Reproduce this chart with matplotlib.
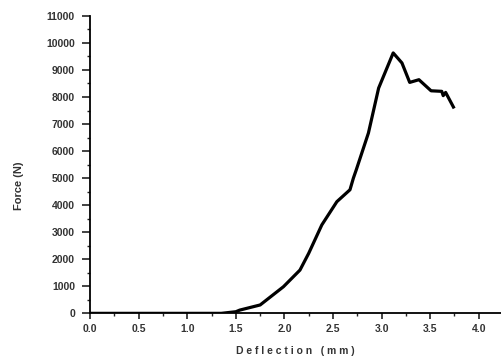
import matplotlib
matplotlib.use("Agg")
import matplotlib.pyplot as plt
from matplotlib.ticker import MultipleLocator

# force vs deflection curve
deflection = [0.0, 0.5, 1.0, 1.35, 1.5, 1.54, 1.75, 1.99, 2.16, 2.25, 2.385, 2.54,
              2.675, 2.71, 2.74, 2.865, 2.97, 3.12, 3.21, 3.29, 3.385, 3.51,
              3.62, 3.635, 3.66, 3.74]
force = [0, 0, 0, 0, 60, 120, 310, 985, 1600, 2220, 3270, 4130,
         4570, 5000, 5310, 6670, 8330, 9630, 9260, 8540, 8640, 8230,
         8210, 8050, 8170, 7630]

x_ticks = [0.0, 0.5, 1.0, 1.5, 2.0, 2.5, 3.0, 3.5, 4.0]
y_ticks = list(range(0, 11001, 1000))

plt.rcParams['font.family'] = ['Liberation Sans', 'DejaVu Sans']

fig = plt.figure(figsize=(5.01, 3.61), dpi=100)
ax = fig.add_axes([0.18, 0.132, 0.82, 0.824])

ax.plot(deflection, force, color='black', lw=2.3, solid_joinstyle='round', zorder=3)

ax.set_xlim(0, 4.23)
ax.set_ylim(0, 11000)
ax.set_xticks(x_ticks)
ax.set_xticklabels([f"{v:.1f}" for v in x_ticks])
ax.set_yticks(y_ticks)
ax.set_yticklabels([str(v) for v in y_ticks])
ax.xaxis.set_minor_locator(MultipleLocator(0.25))
ax.yaxis.set_minor_locator(MultipleLocator(500))

for side in ['top', 'right']:
    ax.spines[side].set_visible(False)
for side in ['left', 'bottom']:
    ax.spines[side].set_linewidth(1.3)

ax.tick_params(which='major', direction='out', width=1.2, color='#222222',
               labelsize=7.5, labelcolor='#333333')
ax.tick_params(axis='y', which='major', length=6, pad=5)
ax.tick_params(axis='x', which='major', length=4, pad=4)
ax.tick_params(which='minor', direction='out', length=2.5, width=1.0, color='#222222')
for lbl in ax.get_xticklabels() + ax.get_yticklabels():
    lbl.set_fontweight('bold')

ax.set_xlabel('D e f l e c t i o n   ( m m )', fontsize=7.5, fontweight='bold',
              color='#333333')
ax.xaxis.set_label_coords(0.5, -0.11)
ax.set_ylabel('Force (N)', fontsize=8, fontweight='bold', color='#333333')
ax.yaxis.set_label_coords(-0.16, 0.43)

fig.savefig('out.png', dpi=100)
